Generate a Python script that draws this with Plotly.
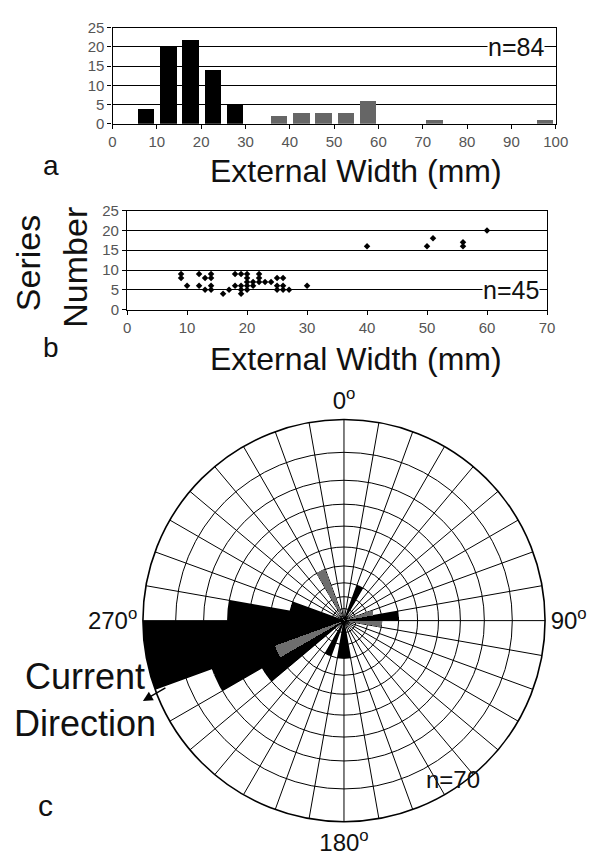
import plotly.graph_objects as go

W, H = 594, 857

# ---------------- data ----------------
# panel a: histogram of external width (5 mm bins)
hist_black_centers = [7.5, 12.5, 17.5, 22.5, 27.5]
hist_black_counts = [4, 20, 22, 14, 5]
hist_grey_centers = [37.5, 42.5, 47.5, 52.5, 57.5, 72.5, 97.5]
hist_grey_counts = [2, 3, 3, 3, 6, 1, 1]

# panel b: series number vs external width
scatter_width = [9, 9, 10, 12, 12, 13, 13, 14, 14, 14, 14, 16, 17, 18, 19, 18, 19, 19, 19,
                 20, 20, 20, 20, 20, 21, 21, 22, 22, 22, 23, 24, 25, 26, 25, 25, 26, 26, 27,
                 30, 40, 50, 51, 56, 56, 60]
scatter_series = [9, 8, 6, 9, 6, 8, 5, 9, 8, 6, 5, 4, 5, 9, 9, 6, 6, 5, 4,
                  9, 8, 7, 6, 5, 7, 6, 9, 8, 7, 7, 7, 8, 8, 6, 5, 6, 5, 5,
                  6, 16, 16, 18, 17, 16, 20]

# panel c: rose diagram (radius read as fraction of outer circle)
ring_levels = [0.06, 0.119, 0.188, 0.272, 0.366, 0.47, 0.579, 0.698, 0.837, 1.0]
rose_black_theta = [25, 85, 175, 185, 205, 235, 245, 255, 265, 275, 285]
rose_black_r = [0.188, 0.272, 0.188, 0.188, 0.188, 0.47, 0.698, 1.0, 1.0, 0.579, 0.272]
rose_grey_theta = [75, 95, 245, 335]
rose_grey_r = [0.15, 0.188, 0.366, 0.272]

angle_ticks = list(range(0, 360, 10))
angle_labels = {0: "0<sup>o</sup>", 90: "90<sup>o</sup>", 180: "180<sup>o</sup>", 270: "270<sup>o</sup>"}

FONT = "Liberation Sans, Arial, sans-serif"
TICKFONT = dict(family="Liberation Sans Narrow, Arial Narrow, Liberation Sans, Arial", size=15, color="#555")


def px(x, y):
    return x / W, 1 - y / H


fig = go.Figure()

fig.add_trace(go.Bar(x=hist_black_centers, y=hist_black_counts, width=3.7,
                     marker=dict(color="black", line=dict(width=0)), xaxis="x", yaxis="y"))
fig.add_trace(go.Bar(x=hist_grey_centers, y=hist_grey_counts, width=3.7,
                     marker=dict(color="#666666", line=dict(width=0)), xaxis="x", yaxis="y"))

fig.add_trace(go.Scatter(x=scatter_width, y=scatter_series, mode="markers",
                         marker=dict(color="black", size=5, symbol="diamond"),
                         xaxis="x2", yaxis="y2"))

fig.add_trace(go.Barpolar(theta=rose_black_theta, r=rose_black_r, width=10,
                          marker=dict(color="black", line=dict(width=0)), subplot="polar"))
fig.add_trace(go.Barpolar(theta=rose_grey_theta, r=rose_grey_r, width=10,
                          marker=dict(color="#6e6e6e", line=dict(width=0)), subplot="polar"))

axis_common = dict(showline=True, linecolor="black", linewidth=1.2, mirror=True,
                   ticks="outside", ticklen=4, tickcolor="black", tickfont=TICKFONT,
                   zeroline=False)

xa0, ya1 = px(111.7, 19)
xa1, ya0 = px(568, 117)
xb0, yb1 = px(126.7, 205.7)
xb1, yb0 = px(559, 306.7)
pc0x, pc1y = px(350 - 207, 624 - 207)
pc1x, pc0y = px(350 + 207, 624 + 207)

fig.update_layout(
    width=W, height=H, margin=dict(l=0, r=0, t=0, b=0),
    paper_bgcolor="white", plot_bgcolor="white", showlegend=False,
    bargap=0, barmode="overlay",
    xaxis=dict(domain=[xa0, xa1], range=[0, 100], dtick=10, showgrid=False, anchor="y", **axis_common),
    yaxis=dict(domain=[ya0, ya1], range=[0, 25], dtick=5, showgrid=True, gridcolor="black",
               gridwidth=1.2, anchor="x", **axis_common),
    xaxis2=dict(domain=[xb0, xb1], range=[0, 70], dtick=10, showgrid=False, anchor="y2", **axis_common),
    yaxis2=dict(domain=[yb0, yb1], range=[0, 25], dtick=5, showgrid=True, gridcolor="black",
                gridwidth=1.2, anchor="x2", **axis_common),
    polar=dict(
        domain=dict(x=[pc0x, pc1x], y=[pc0y, pc1y]),
        bgcolor="white", barmode="overlay",
        angularaxis=dict(rotation=90, direction="clockwise", tickvals=angle_ticks,
                         ticktext=[angle_labels.get(a, "") for a in angle_ticks],
                         tickfont=dict(family=FONT, size=24, color="#111"),
                         showgrid=True, gridcolor="black", gridwidth=1.2,
                         showline=True, linecolor="black", linewidth=1.6, ticks="",
                         layer="below traces"),
        radialaxis=dict(range=[0, 1], tickvals=ring_levels, showticklabels=False,
                        showgrid=True, gridcolor="black", gridwidth=1.2,
                        showline=False, ticks="", layer="below traces"),
    ),
)

annots = []


def add_text(text, x, y, size, xanchor="center", textangle=0):
    ax_, ay_ = px(x, y)
    annots.append(dict(text=text, x=ax_, y=ay_, xref="paper", yref="paper", showarrow=False,
                       xanchor=xanchor, yanchor="middle", textangle=textangle,
                       font=dict(family=FONT, size=size, color="#111")))


add_text("External Width (mm)", 362, 165, 32)
add_text("External Width (mm)", 362, 357, 32)
add_text("a", 48, 160, 28)
add_text("b", 48, 345, 28)
add_text("c", 43, 813, 30)
add_text("Series", 25, 259, 34, textangle=-90)
add_text("Number", 73, 263, 34, textangle=-90)
add_text("Current<br>Direction", 8, 705, 36, xanchor="left")
add_text("n=70", 462, 786, 24)

# n labels sit on the gridlines of panels a and b
annots.append(dict(text="n=84", x=91, y=20, xref="x", yref="y", showarrow=False,
                   font=dict(family=FONT, size=25, color="#111"), bgcolor="white",
                   borderpad=0))
annots.append(dict(text="n=45", x=64, y=5, xref="x2", yref="y2", showarrow=False,
                   font=dict(family=FONT, size=25, color="#111"), bgcolor="white",
                   borderpad=0))

hx, hy = px(143, 706)
annots.append(dict(text="", x=hx, y=hy, xref="paper", yref="paper", showarrow=True,
                   ax=24, ay=-14, arrowhead=2, arrowsize=1.3, arrowwidth=1.5,
                   arrowcolor="black"))

fig.update_layout(annotations=annots)

fig.write_html("out.html", config={"displayModeBar": False},
               post_script="document.body.style.margin='0px';")
